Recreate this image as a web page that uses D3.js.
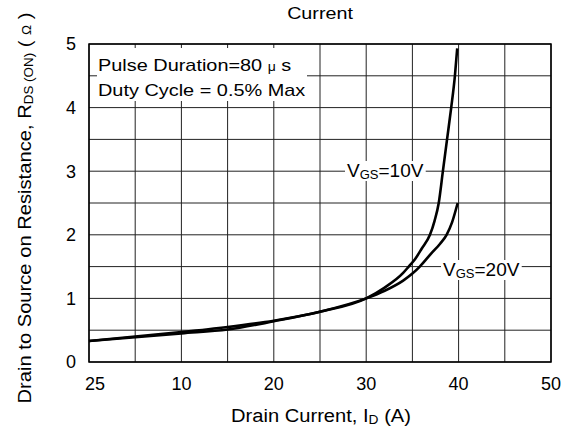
<!DOCTYPE html>
<html>
<head>
<meta charset="utf-8">
<script src="https://cdn.jsdelivr.net/npm/d3@7.9.0/dist/d3.min.js"></script>
<style>
  body { margin: 0; background: #fff; }
  text { font-family: "Liberation Sans", Arial, sans-serif; fill: #000; }
</style>
</head>
<body>
<svg id="chart" width="563" height="427"></svg>
<script>
// tick labels (the datasheet prints "25" at the origin)
const currentTicks = [0, 10, 20, 30, 40, 50];
const currentTickLabels = ['25', '10', '20', '30', '40', '50'];
const resTicks = [0, 1, 2, 3, 4, 5];

// V_GS = 10V
const id10  = [0, 5, 10, 15, 20, 25, 30, 32, 34, 34.6, 35.3, 36, 36.9, 37.4, 37.85, 38.3, 38.75, 39.2, 39.6, 39.85];
const rds10 = [0.33, 0.40, 0.47, 0.55, 0.65, 0.79, 1.0, 1.17, 1.40, 1.5, 1.62, 1.78, 2.0, 2.22, 2.5, 3.0, 3.5, 4.0, 4.5, 4.93];

// V_GS = 20V
const id20  = [0, 5, 10, 15, 20, 25, 30, 32, 34, 35, 35.8, 37, 38, 38.7, 39.3, 39.9];
const rds20 = [0.33, 0.39, 0.45, 0.51, 0.64, 0.79, 1.0, 1.12, 1.28, 1.39, 1.5, 1.7, 1.86, 2.0, 2.2, 2.5];

const pLeft = 89, pRight = 551, pTop = 44, pBottom = 362;

const svg = d3.select('#chart');

const x = d3.scaleLinear().domain([0, 50]).range([pLeft, pRight]);
const y = d3.scaleLinear().domain([0, 5]).range([pBottom, pTop]);

// text that is a bit wider than the font (the scan is stretched sideways)
function wideText(transform, size, sx, anchor) {
  return svg.append('g')
    .attr('transform', `${transform} scale(${sx},1)`)
    .append('text')
    .attr('font-size', size)
    .attr('text-anchor', anchor || 'start');
}

// main text + lowered small subscript + rest
function withSub(t, main, sub, rest, subSize) {
  t.append('tspan').text(main);
  t.append('tspan').attr('font-size', subSize).attr('dy', 2).text(sub);
  t.append('tspan').attr('dy', -2).text(rest);
  return t;
}

// grid
const grid = svg.append('g').attr('stroke', '#222').attr('stroke-width', 1);
x.ticks(10).forEach((v) => {
  grid.append('line')
    .attr('x1', x(v)).attr('x2', x(v))
    .attr('y1', pTop).attr('y2', pBottom);
});
y.ticks(10).forEach((v) => {
  grid.append('line')
    .attr('x1', pLeft).attr('x2', pRight)
    .attr('y1', y(v)).attr('y2', y(v));
});

// frame
svg.append('rect')
  .attr('x', pLeft).attr('y', pTop)
  .attr('width', pRight - pLeft).attr('height', pBottom - pTop)
  .attr('fill', 'none').attr('stroke', '#000').attr('stroke-width', 1.5);

// note box
svg.append('rect')
  .attr('x', 97).attr('y', 48)
  .attr('width', 210).attr('height', 53)
  .attr('fill', '#fff');

let note1 = wideText('translate(98,71)', 17, 1.17);
note1.append('tspan').text('Pulse Duration=80 ');
note1.append('tspan').attr('font-size', 12).text('μ');
note1.append('tspan').text(' s');
wideText('translate(98,96)', 17, 1.17).text('Duty Cycle = 0.5% Max');

// curves
const line = d3.line()
  .x((d) => x(d[0]))
  .y((d) => y(d[1]))
  .curve(d3.curveMonotoneX);

[[id10, rds10], [id20, rds20]].forEach(([ids, rs]) => {
  svg.append('path')
    .attr('d', line(ids.map((v, i) => [v, rs[i]])))
    .attr('fill', 'none')
    .attr('stroke', '#000')
    .attr('stroke-width', 2.6)
    .attr('stroke-linejoin', 'round');
});

// curve labels with white background
function vgsLabel(tx, ty, volts) {
  let g = svg.append('g');
  let t = g.append('text').attr('x', tx).attr('y', ty).attr('font-size', 19);
  withSub(t, 'V', 'GS', '=' + volts, 13);
  let b = t.node().getBBox();
  g.insert('rect', 'text')
    .attr('x', b.x - 2).attr('y', b.y + 1)
    .attr('width', b.width + 4).attr('height', b.height - 2)
    .attr('fill', '#fff');
}
vgsLabel(347, 177, '10V');
vgsLabel(443, 276, '20V');

// axes tick labels
svg.append('g').selectAll('text')
  .data(currentTicks)
  .join('text')
  .attr('x', (d, i) => x(d) + (i === 0 ? 6 : 0))
  .attr('y', 390)
  .attr('text-anchor', 'middle')
  .attr('font-size', 18)
  .text((d, i) => currentTickLabels[i]);

svg.append('g').selectAll('text')
  .data(resTicks)
  .join('text')
  .attr('x', 76)
  .attr('y', (d) => y(d))
  .attr('dy', '0.36em')
  .attr('text-anchor', 'end')
  .attr('font-size', 18)
  .text((d) => d);

// title
wideText('translate(320,19)', 17, 1.16, 'middle').text('Current');

// x label
withSub(wideText('translate(321,422)', 19, 1.06, 'middle'), 'Drain Current, I', 'D', ' (A)', 13);

// y label
let yl = withSub(wideText('translate(31,208) rotate(-90)', 18, 1.12, 'middle'),
  'Drain to Source on Resistance, R', 'DS (ON)', ' ( ', 12);
yl.append('tspan').attr('font-size', 12).text('Ω');
yl.append('tspan').text(' )');
</script>
</body>
</html>
